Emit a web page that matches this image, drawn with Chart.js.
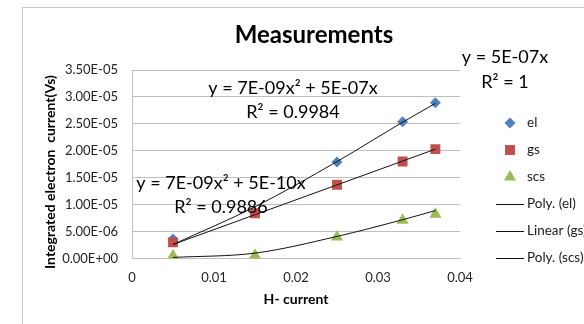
<!DOCTYPE html>
<html>
<head>
<meta charset="utf-8">
<title>Measurements</title>
<script src="https://cdn.jsdelivr.net/npm/chart.js@4.4.1/dist/chart.umd.min.js"></script>
<style>
  html, body { margin: 0; padding: 0; background: #fff; overflow: hidden; }
  #frame {
    position: absolute;
    left: 22px;
    top: 7px;
    width: 582px;
    height: 330px;
    border: 1px solid #c9c9c9;
    background: #fff;
  }
  #chart { display: block; }
</style>
</head>
<body>
<div id="frame"><canvas id="chart" width="582" height="330"></canvas></div>
<script>
// H- current values (x) shared by all three series
const hCurrent = [0.005, 0.015, 0.025, 0.033, 0.037];

// integrated electron current (Vs)
const elValues = [3.6e-6, null, 1.79e-5, 2.54e-5, 2.89e-5];
const gsValues = [3.0e-6, 8.4e-6, 1.37e-5, 1.80e-5, 2.03e-5];
const scsValues = [5.0e-7, 6.0e-7, 4.0e-6, 7.1e-6, 8.2e-6];

// trend lines
const elTrend = [2.6e-6, 9.6e-6, 1.80e-5, 2.53e-5, 2.88e-5];
const gsTrendX = [0.005, 0.037];
const gsTrend = [2.6e-6, 2.03e-5];
const scsTrend = [2.0e-7, 1.0e-6, 4.1e-6, 7.2e-6, 8.9e-6];

const seriesNames = ["el", "gs", "scs"];
const trendNames = ["Poly. (el)", "Linear (gs)", "Poly. (scs)"];
const equations = ["y = 7E-09x² + 5E-07x", "y = 7E-09x² + 5E-10x", "y = 5E-07x"];
const rSquared = ["R² = 0.9984", "R² = 0.9886", "R² = 1"];

const xTickLabels = ["0", "0.01", "0.02", "0.03", "0.04"];
const yTickLabels = ["0.00E+00", "5.00E-06", "1.00E-05", "1.50E-05", "2.00E-05", "2.50E-05", "3.00E-05", "3.50E-05"];

const chartTitle = "Measurements";
const xTitle = "H- current";
const yTitle = "Integrated electron  current(Vs)";

const FONT = "Lato, 'Open Sans', sans-serif";

function toPoints(xs, ys) {
  return xs.map((x, i) => ({ x: x, y: ys[i] }));
}

function markerSet(name, values, style, color, radius, order) {
  return {
    label: name,
    data: toPoints(hCurrent, values),
    pointStyle: style,
    pointRadius: radius,
    pointHoverRadius: radius,
    pointBackgroundColor: color,
    pointBorderWidth: 0,
    borderColor: color,
    backgroundColor: color,
    showLine: false,
    order: order
  };
}

function trendSet(name, xs, values, curved) {
  return {
    label: name,
    data: toPoints(xs, values),
    showLine: true,
    borderColor: "#111",
    borderWidth: 1,
    pointRadius: 0,
    cubicInterpolationMode: curved ? "monotone" : "default",
    order: 0
  };
}

// title, y axis title, equation boxes and legend
const decorations = {
  id: "decorations",
  afterDraw(chart) {
    const ctx = chart.ctx;
    ctx.save();
    ctx.textAlign = "center";
    ctx.textBaseline = "middle";
    ctx.fillStyle = "#000";

    ctx.font = "bold 24px " + FONT;
    ctx.fillText(chartTitle, chart.width / 2, 27);

    // y title sits a little below the middle of the plot
    ctx.save();
    ctx.translate(27, 164);
    ctx.rotate(-Math.PI / 2);
    ctx.font = "bold 14px " + FONT;
    ctx.fillText(yTitle, 0, 0);
    ctx.restore();

    ctx.font = "18px " + FONT;
    ctx.fillText(equations[0], 270, 80);
    ctx.fillText(rSquared[0], 270, 104);
    ctx.fillText(equations[1], 198, 175);
    ctx.fillText(rSquared[1], 198, 199);
    ctx.fillText(equations[2], 482, 49);
    ctx.fillText(rSquared[2], 482, 74);

    // legend
    ctx.font = "13.5px " + FONT;
    ctx.textAlign = "left";
    chart.data.datasets.forEach((ds, i) => {
      const y = 115 + i * 27;
      if (ds.showLine) {
        ctx.strokeStyle = ds.borderColor;
        ctx.lineWidth = 1;
        ctx.beginPath();
        ctx.moveTo(473, Math.round(y) + 0.5);
        ctx.lineTo(501, Math.round(y) + 0.5);
        ctx.stroke();
      } else {
        ctx.fillStyle = ds.pointBackgroundColor;
        Chart.helpers.drawPoint(ctx, {
          pointStyle: ds.pointStyle,
          radius: ds.pointRadius,
          rotation: 0,
          borderWidth: 0
        }, 487, y);
      }
      ctx.fillStyle = "#1a1a1a";
      ctx.fillText(ds.label, 504, y);
    });
    ctx.restore();
  }
};

document.addEventListener("DOMContentLoaded", () => {
  const ctx = document.getElementById("chart").getContext("2d");

  new Chart(ctx, {
    type: "scatter",
    data: {
      datasets: [
        markerSet(seriesNames[0], elValues, "rectRot", "#4F81BD", 5.5, 5),
        markerSet(seriesNames[1], gsValues, "rect", "#C0504D", 7, 4),
        markerSet(seriesNames[2], scsValues, "triangle", "#9BBB59", 7, 3),
        trendSet(trendNames[0], hCurrent, elTrend, true),
        trendSet(trendNames[1], gsTrendX, gsTrend, false),
        trendSet(trendNames[2], hCurrent, scsTrend, true)
      ]
    },
    options: {
      responsive: false,
      animation: false,
      events: [],
      layout: { padding: { left: 0, right: 145, top: 62, bottom: 0 } },
      plugins: {
        legend: { display: false },
        tooltip: { enabled: false },
        title: { display: false }
      },
      scales: {
        x: {
          type: "linear",
          min: 0,
          max: 0.04,
          afterFit: (scale) => { scale.height = 79.5; },
          ticks: {
            stepSize: 0.01,
            padding: 12,
            color: "#1f1f1f",
            font: { family: FONT, size: 13 },
            callback: (value, index) => xTickLabels[index]
          },
          grid: { display: false, drawTicks: false },
          border: { display: true, color: "#bfbfbf" },
          title: {
            display: true,
            text: xTitle,
            color: "#000",
            font: { family: FONT, size: 14, weight: "bold" },
            padding: { top: 0, bottom: 30 }
          }
        },
        y: {
          type: "linear",
          min: 0,
          max: 3.5e-5,
          afterFit: (scale) => { scale.width = 109; },
          ticks: {
            stepSize: 5e-6,
            padding: 14,
            color: "#1f1f1f",
            font: { family: FONT, size: 13 },
            callback: (value, index) => yTickLabels[index]
          },
          grid: { color: "#bfbfbf", drawTicks: false },
          border: { display: true, color: "#bfbfbf" },
          title: { display: false }
        }
      }
    },
    plugins: [decorations]
  });
});
</script>
</body>
</html>
